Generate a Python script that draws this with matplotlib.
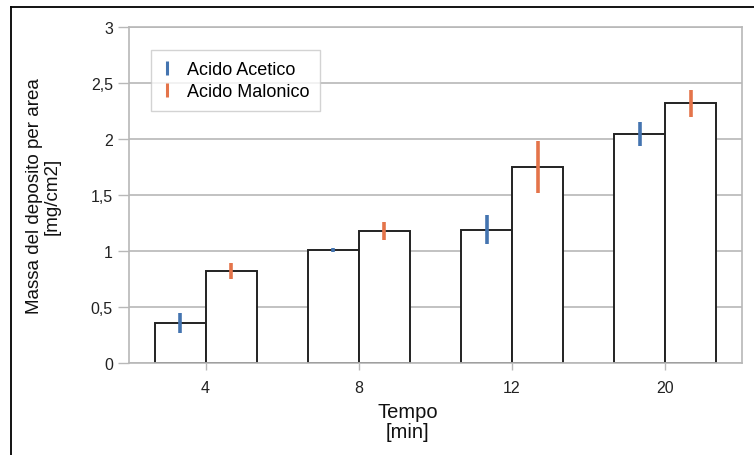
import matplotlib
matplotlib.use("Agg")
import matplotlib.pyplot as plt
import numpy as np
from matplotlib.lines import Line2D

plt.rcParams['font.family'] = ['Liberation Sans', 'DejaVu Sans']

# Data
categories = ["4", "8", "12", "20"]
acetico = [0.36, 1.01, 1.19, 2.045]
acetico_err = [0.09, 0.02, 0.13, 0.11]
malonico = [0.82, 1.18, 1.75, 2.32]
malonico_err = [0.07, 0.08, 0.23, 0.12]
y_ticks = [0, 0.5, 1, 1.5, 2, 2.5, 3]
y_ticklabels = ["0", "0,5", "1", "1,5", "2", "2,5", "3"]

blue = "#4474b0"
orange = "#e4744a"
grid_gray = "#b8b8b8"

fig = plt.figure(figsize=(7.54, 4.56), dpi=100)
ax = fig.add_axes([0.171, 0.2018, 0.813, 0.7368])

x = np.arange(len(categories))
w = 0.333
ax.bar(x - w / 2, acetico, width=w, facecolor="white", edgecolor="#222222",
       linewidth=1.4, zorder=2)
ax.bar(x + w / 2, malonico, width=w, facecolor="white", edgecolor="#222222",
       linewidth=1.4, zorder=2)
ax.errorbar(x - w / 2, acetico, yerr=acetico_err, fmt="none", ecolor=blue,
            elinewidth=2.6, capsize=0, zorder=3)
ax.errorbar(x + w / 2, malonico, yerr=malonico_err, fmt="none", ecolor=orange,
            elinewidth=2.6, capsize=0, zorder=3)

ax.set_xlim(-0.5, len(categories) - 0.5)
ax.set_ylim(0, 3)
ax.set_yticks(y_ticks)
ax.set_yticklabels(y_ticklabels)
ax.set_xticks(x)
ax.set_xticklabels(categories)
ax.yaxis.grid(True, color=grid_gray, linewidth=1.2, zorder=0)
ax.set_axisbelow(True)
for s in ax.spines.values():
    s.set_color(grid_gray)
    s.set_linewidth(1.2)
ax.tick_params(axis="both", colors=grid_gray, labelcolor="#222222",
               labelsize=11.5, length=8, width=1.0)
ax.tick_params(axis="x", length=5, pad=7)

ax.set_ylabel("Massa del deposito per area\n[mg/cm2]", fontsize=13.5,
              linespacing=1.0, labelpad=22, color="#111111")
ax.set_xlabel("Tempo\n[min]", fontsize=14.5, linespacing=1.05, color="#111111")
ax.xaxis.set_label_coords(0.455, -0.116, transform=ax.transAxes)
ax.xaxis.label.set_verticalalignment("top")

handles = [
    Line2D([], [], color=blue, marker="|", linestyle="none", markersize=10,
           markeredgewidth=2.2),
    Line2D([], [], color=orange, marker="|", linestyle="none", markersize=10,
           markeredgewidth=2.2),
]
leg = ax.legend(handles, ["Acido Acetico", "Acido Malonico"], loc="upper left",
                bbox_to_anchor=(0.021, 0.957), fontsize=13, frameon=True,
                fancybox=False, edgecolor="#c8c8c8", handlelength=0.6,
                handletextpad=0.8, borderpad=0.6, labelspacing=0.25)
leg.get_frame().set_linewidth(1.0)

# Outer frame lines on the left and top edges of the figure
fig.add_artist(Line2D([10.5 / 754, 10.5 / 754], [0, 1 - 7.5 / 456],
                      transform=fig.transFigure, color="black", linewidth=1.3))
fig.add_artist(Line2D([10.5 / 754, 1], [1 - 7.5 / 456, 1 - 7.5 / 456],
                      transform=fig.transFigure, color="black", linewidth=1.3))

fig.savefig("out.png", dpi=100)
